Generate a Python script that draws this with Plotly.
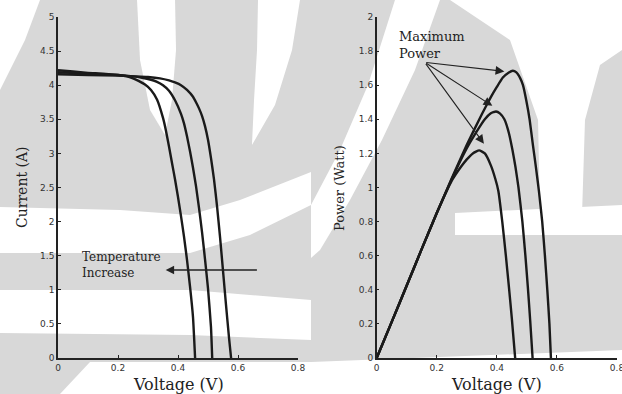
import plotly.graph_objects as go

W, H = 622, 394

# ---------------- data ----------------
# I-V curves (three temperatures; A = hottest)
iv_v_a = [0, 0.05, 0.10, 0.15, 0.20, 0.23, 0.25, 0.27, 0.29, 0.31, 0.33, 0.35, 0.36, 0.37,
          0.38, 0.39, 0.40, 0.41, 0.42, 0.43, 0.44, 0.45, 0.457]
iv_i_a = [4.22, 4.20, 4.18, 4.17, 4.15, 4.13, 4.10, 4.06, 4.01, 3.93, 3.79, 3.52, 3.33, 3.10,
          2.86, 2.62, 2.36, 2.08, 1.78, 1.44, 1.05, 0.60, 0]
iv_v_b = [0, 0.10, 0.20, 0.25, 0.28, 0.31, 0.33, 0.35, 0.37, 0.39, 0.41, 0.42, 0.43, 0.44,
          0.45, 0.46, 0.47, 0.48, 0.49, 0.50, 0.51, 0.514]
iv_i_b = [4.19, 4.17, 4.15, 4.13, 4.11, 4.08, 4.05, 4.00, 3.92, 3.78, 3.58, 3.44, 3.25, 3.03,
          2.79, 2.52, 2.20, 1.85, 1.45, 1.02, 0.45, 0]
iv_v_c = [0, 0.10, 0.20, 0.30, 0.34, 0.37, 0.39, 0.41, 0.43, 0.45, 0.46, 0.47, 0.48, 0.49,
          0.50, 0.51, 0.52, 0.53, 0.54, 0.55, 0.56, 0.57, 0.577]
iv_i_c = [4.16, 4.15, 4.14, 4.12, 4.10, 4.07, 4.04, 4.00, 3.93, 3.83, 3.75, 3.66, 3.55, 3.40,
          3.20, 2.93, 2.62, 2.23, 1.78, 1.28, 0.78, 0.30, 0]

# P-V curves
pv_v_a = [0, 0.05, 0.10, 0.15, 0.20, 0.25, 0.28, 0.30, 0.32, 0.341, 0.36, 0.38, 0.395,
          0.405, 0.418, 0.43, 0.44, 0.45, 0.461]
pv_p_a = [0, 0.212, 0.425, 0.64, 0.85, 1.04, 1.12, 1.165, 1.2, 1.218, 1.2, 1.13, 1.05,
          0.98, 0.80, 0.60, 0.42, 0.23, 0]
pv_v_b = [0, 0.05, 0.10, 0.15, 0.20, 0.25, 0.30, 0.33, 0.36, 0.38, 0.397, 0.41, 0.425,
          0.44, 0.452, 0.462, 0.472, 0.485, 0.495, 0.503, 0.511, 0.519]
pv_p_b = [0, 0.212, 0.425, 0.64, 0.85, 1.05, 1.23, 1.32, 1.40, 1.435, 1.446, 1.435, 1.40,
          1.32, 1.22, 1.12, 1.0, 0.80, 0.60, 0.42, 0.22, 0]
pv_v_c = [0, 0.05, 0.10, 0.15, 0.20, 0.25, 0.30, 0.35, 0.38, 0.40, 0.42, 0.44, 0.453,
          0.465, 0.478, 0.487, 0.498, 0.509, 0.52, 0.53, 0.54, 0.551, 0.56, 0.568, 0.575, 0.58]
pv_p_c = [0, 0.212, 0.425, 0.64, 0.85, 1.055, 1.25, 1.43, 1.53, 1.59, 1.645, 1.675, 1.685,
          1.675, 1.64, 1.60, 1.51, 1.40, 1.25, 1.12, 0.98, 0.80, 0.60, 0.40, 0.20, 0]

x_ticks = [0, 0.2, 0.4, 0.6, 0.8]
i_ticks = [0, 0.5, 1, 1.5, 2, 2.5, 3, 3.5, 4, 4.5, 5]
p_ticks = [0, 0.2, 0.4, 0.6, 0.8, 1, 1.2, 1.4, 1.6, 1.8, 2]

# maximum-power arrows: tail and heads (V, P)
mp_tail = (0.16, 1.734)
mp_heads = [(0.425, 1.681), (0.385, 1.479), (0.357, 1.257)]
# temperature arrow (V, I)
temp_tail = (0.668, 1.29)
temp_head = (0.359, 1.29)

# ---------------- layout helpers ----------------
def px(x):
    return x / W

def py(y):
    return 1 - y / H

def path(pts):
    s = "M %.4f %.4f " % (px(pts[0][0]), py(pts[0][1]))
    for x, y in pts[1:]:
        s += "L %.4f %.4f " % (px(x), py(y))
    return s + "Z"

GREY = "#d8d8d8"
INK = "#1a1a1a"
fig = go.Figure()

line_style = dict(color=INK, width=2.4, shape="spline", smoothing=0.4)
for v, i in [(iv_v_a, iv_i_a), (iv_v_b, iv_i_b), (iv_v_c, iv_i_c)]:
    fig.add_trace(go.Scatter(x=v, y=i, mode="lines", line=line_style, xaxis="x", yaxis="y",
                             showlegend=False, hoverinfo="skip"))
for v, p in [(pv_v_a, pv_p_a), (pv_v_b, pv_p_b), (pv_v_c, pv_p_c)]:
    fig.add_trace(go.Scatter(x=v, y=p, mode="lines", line=line_style, xaxis="x2", yaxis="y2",
                             showlegend=False, hoverinfo="skip"))

# watermark approximation (grey base, white bands)
shapes = [dict(type="rect", xref="paper", yref="paper", x0=0, x1=1, y0=0, y1=1,
               fillcolor=GREY, line=dict(width=0), layer="below")]
white_polys = [
    [(0, 0), (40, 0), (25, 40), (10, 70), (0, 90)],
    [(137, 0), (175, 0), (176, 50), (172, 100), (165, 135), (150, 110), (140, 60)],
    [(258, 0), (300, 0), (292, 50), (275, 105), (252, 145), (254, 100), (257, 50)],
    [(0, 207), (120, 210), (190, 215), (240, 200), (311, 172), (311, 205), (250, 235), (190, 253), (0, 253)],
    [(0, 290), (190, 290), (311, 300), (311, 340), (190, 335), (0, 333)],
    [(90, 362), (311, 362), (311, 394), (60, 394)],
    [(395, 0), (440, 0), (415, 70), (382, 140), (350, 200), (320, 250), (311, 258), (311, 205), (340, 150), (368, 85)],
    [(450, 0), (622, 0), (622, 50), (600, 65), (585, 120), (582, 215), (540, 215), (538, 120), (510, 40)],
    [(455, 213), (622, 205), (622, 235), (455, 235)],
    [(311, 362), (622, 350), (622, 394), (311, 394)],
]
for poly in white_polys:
    shapes.append(dict(type="path", xref="paper", yref="paper", path=path(poly),
                       fillcolor="white", line=dict(width=0), layer="below"))

axis_common = dict(showline=True, linecolor="#222222", linewidth=1.5, mirror=False,
                   ticks="inside", ticklen=3, tickcolor="#222222", showgrid=False,
                   zeroline=False, automargin=False, ticklabeloverflow="allow",
                   tickfont=dict(family="DejaVu Sans", size=9, color="#333333"))

fig.update_layout(
    width=W, height=H, autosize=False,
    margin=dict(l=0, r=0, t=0, b=0, pad=0),
    paper_bgcolor="white", plot_bgcolor="rgba(0,0,0,0)",
    showlegend=False,
    shapes=shapes,
    xaxis=dict(domain=[px(58), px(298)], range=[0, 0.8], tickvals=x_ticks, anchor="y", **axis_common),
    yaxis=dict(domain=[py(358), py(17)], range=[0, 5], tickvals=i_ticks, anchor="x", **axis_common),
    xaxis2=dict(domain=[px(376.7), px(617)], range=[0, 0.8], tickvals=x_ticks, anchor="y2", **axis_common),
    yaxis2=dict(domain=[py(358), py(17)], range=[0, 2], tickvals=p_ticks, anchor="x2", **axis_common),
)

serif = "DejaVu Serif"
ann = []
ann.append(dict(text="Voltage (V)", xref="paper", yref="paper", x=px(178), y=py(384),
                xanchor="center", yanchor="middle", showarrow=False,
                font=dict(family=serif, size=16, color="#222")))
ann.append(dict(text="Voltage (V)", xref="paper", yref="paper", x=px(496), y=py(384),
                xanchor="center", yanchor="middle", showarrow=False,
                font=dict(family=serif, size=16, color="#222")))
ann.append(dict(text="Current (A)", xref="paper", yref="paper", x=px(22), y=py(187),
                xanchor="center", yanchor="middle", textangle=-90, showarrow=False,
                font=dict(family=serif, size=14, color="#222")))
ann.append(dict(text="Power (Watt)", xref="paper", yref="paper", x=px(339), y=py(188),
                xanchor="center", yanchor="middle", textangle=-90, showarrow=False,
                font=dict(family=serif, size=13, color="#222")))
ann.append(dict(text="Temperature<br>Increase", xref="paper", yref="paper", x=px(80), y=py(265),
                xanchor="left", yanchor="middle", align="left", showarrow=False,
                font=dict(family=serif, size=12, color="#222")))
ann.append(dict(text="Maximum<br>Power", xref="paper", yref="paper", x=px(397), y=py(45),
                xanchor="left", yanchor="middle", align="left", showarrow=False,
                font=dict(family=serif, size=13, color="#222")))
ann.append(dict(text="", x=temp_head[0], y=temp_head[1], xref="x", yref="y",
                ax=temp_tail[0], ay=temp_tail[1], axref="x", ayref="y",
                showarrow=True, arrowhead=2, arrowsize=1.3, arrowwidth=1.3, arrowcolor="#222"))
for hx, hy in mp_heads:
    ann.append(dict(text="", x=hx, y=hy, xref="x2", yref="y2",
                    ax=mp_tail[0], ay=mp_tail[1], axref="x2", ayref="y2",
                    showarrow=True, arrowhead=2, arrowsize=1.6, arrowwidth=1.1, arrowcolor="#222"))
fig.update_layout(annotations=ann)

fig.write_html("out.html", config={"displayModeBar": False},
               post_script="document.body.style.margin='0px';document.body.style.padding='0px';")
